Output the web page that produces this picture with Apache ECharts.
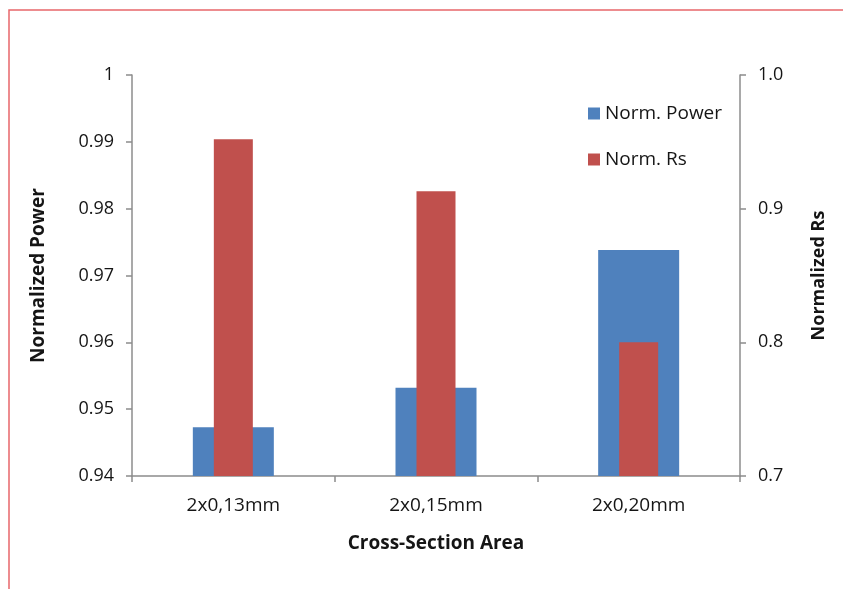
<!DOCTYPE html>
<html>
<head>
<meta charset="utf-8">
<script src="https://cdn.jsdelivr.net/npm/echarts@6/dist/echarts.min.js"></script>
<style>
html,body{margin:0;padding:0;background:#fff;}
#chart{width:843px;height:589px;}
</style>
</head>
<body>
<div id="chart"></div>
<script>
var categories = ['2x0,13mm', '2x0,15mm', '2x0,20mm'];
var normPower = [0.9473, 0.9532, 0.9738];
var normRs = [0.952, 0.913, 0.800];
var leftTicks = {min: 0.94, max: 1, interval: 0.01};
var rightTicks = {min: 0.7, max: 1.0, interval: 0.1};

var FONT = '"Open Sans", "Liberation Sans", sans-serif';
var TXT = '#151515';
var chart = echarts.init(document.getElementById('chart'), null, {renderer: 'canvas'});
var axisLineStyle = {color: '#8c8c8c', width: 1.5};
chart.setOption({
  backgroundColor: '#fff',
  animation: false,
  textStyle: {fontFamily: FONT},
  graphic: [
    {type: 'polyline', shape: {points: [[9, 589], [9, 10], [843, 10]]},
     style: {stroke: '#e8676b', lineWidth: 1.5, fill: null}}
  ],
  legend: {
    orient: 'vertical',
    left: 583, top: 99,
    itemWidth: 12, itemHeight: 12, itemGap: 27,
    icon: 'rect',
    textStyle: {fontFamily: FONT, fontSize: 19, color: TXT},
    data: ['Norm. Power', 'Norm. Rs']
  },
  grid: {left: 132, right: 103, top: 75, bottom: 113},
  xAxis: [
    {
      type: 'category',
      data: categories,
      name: 'Cross-Section Area',
      nameLocation: 'middle',
      nameGap: 58,
      nameTextStyle: {fontFamily: FONT, fontSize: 19, fontWeight: 'bold', color: TXT},
      axisLine: {lineStyle: axisLineStyle},
      axisTick: {show: true, length: 6, lineStyle: axisLineStyle},
      axisLabel: {fontFamily: FONT, fontSize: 19, color: TXT, margin: 20}
    },
    {
      type: 'category',
      data: categories,
      position: 'bottom',
      show: false
    }
  ],
  yAxis: [
    {
      type: 'value',
      min: leftTicks.min, max: leftTicks.max, interval: leftTicks.interval,
      name: 'Normalized Power',
      nameLocation: 'middle',
      nameGap: 84,
      nameTextStyle: {fontFamily: FONT, fontSize: 19, fontWeight: 'bold', color: TXT},
      axisLine: {show: true, lineStyle: axisLineStyle},
      axisTick: {show: true, length: 6, lineStyle: axisLineStyle},
      splitLine: {show: false},
      axisLabel: {fontFamily: FONT, fontSize: 18, color: TXT, margin: 18,
        formatter: function (v) { return String(Math.round(v * 100) / 100); }}
    },
    {
      type: 'value',
      position: 'right',
      min: rightTicks.min, max: rightTicks.max, interval: rightTicks.interval,
      name: 'Normalized Rs',
      nameLocation: 'middle',
      nameGap: 70,
      nameTextStyle: {fontFamily: FONT, fontSize: 18, fontWeight: 'bold', color: TXT},
      axisLine: {show: true, lineStyle: axisLineStyle},
      axisTick: {show: true, length: 6, lineStyle: axisLineStyle},
      splitLine: {show: false},
      axisLabel: {fontFamily: FONT, fontSize: 18, color: TXT, margin: 18,
        formatter: function (v) { return v.toFixed(1); }}
    }
  ],
  series: [
    {
      name: 'Norm. Power', type: 'bar', xAxisIndex: 0, yAxisIndex: 0,
      data: normPower, barWidth: 81,
      itemStyle: {color: '#4f81bd'}
    },
    {
      name: 'Norm. Rs', type: 'bar', xAxisIndex: 1, yAxisIndex: 1,
      data: normRs, barWidth: 39,
      itemStyle: {color: '#c0504d'}
    }
  ]
});
</script>
</body>
</html>
